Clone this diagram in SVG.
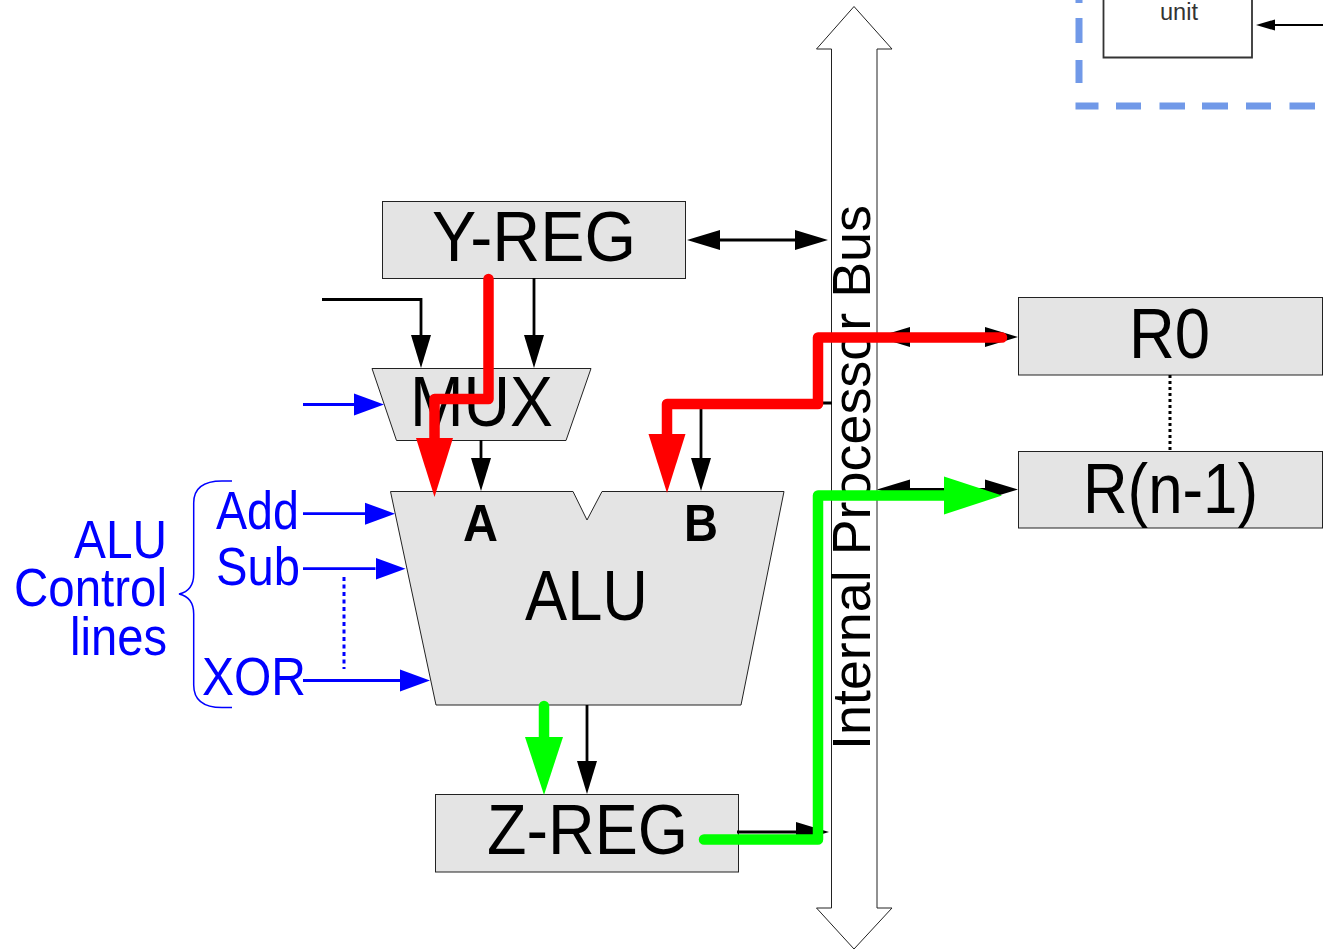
<svg xmlns="http://www.w3.org/2000/svg" width="1323" height="950" viewBox="0 0 1323 950">
<style>
text{font-family:"Liberation Sans",Arial,sans-serif;fill:#000}
.reg{fill:#e4e4e4;stroke:#222;stroke-width:1}
.big{font-size:71px}
.blue{font-size:53px;fill:#00f}
.lbl{font-size:51px;font-weight:bold}
.k{fill:none;stroke:#000;stroke-width:2.800}
.b{fill:none;stroke:#00f;stroke-width:2.800}
.red{fill:none;stroke:#f00;stroke-width:10.500;stroke-linejoin:round;stroke-linecap:round}
.grn{fill:none;stroke:#0f0;stroke-width:10.500;stroke-linejoin:round;stroke-linecap:round}
.dash{fill:none;stroke:#7199e8;stroke-width:7}
</style>
<defs>
<marker id="ak" markerUnits="userSpaceOnUse" markerWidth="34" markerHeight="24" refX="0" refY="12" orient="auto-start-reverse"><path d="M0 2L33 12L0 22Z" fill="#000"/></marker>
<marker id="ab" markerUnits="userSpaceOnUse" markerWidth="34" markerHeight="24" refX="0" refY="12" orient="auto"><path d="M0 1L30 12L0 23Z" fill="#00f"/></marker>
<marker id="ar" markerUnits="userSpaceOnUse" markerWidth="62" markerHeight="42" refX="0" refY="21" orient="auto"><path d="M0 2.500L59 21L0 39.500Z" fill="#f00"/></marker>
<marker id="ag" markerUnits="userSpaceOnUse" markerWidth="62" markerHeight="42" refX="0" refY="21" orient="auto"><path d="M0 2L58 21L0 40Z" fill="#0f0"/></marker>
</defs>

<g id="cpu-unit">
<path d="M1103.500 0V57.500H1252V0" fill="#fff" stroke="#333" stroke-width="1.800"/>
<text x="1160" y="20" style="font-size:23px;fill:#333" textLength="38" lengthAdjust="spacingAndGlyphs">unit</text>
</g>
<g id="boundary">
<path class="dash" d="M1079 0V3M1079 18V43M1079 60V83"/>
<path class="dash" d="M1075.500 106H1098.500M1116 106H1141M1159.500 106H1185M1202 106H1228M1246 106H1271M1289.500 106H1315"/>
</g>

<g id="bus">
<path d="M854 6.500L892 49H877V908H892L854 949L816.500 908H831.500V49H816.500Z" fill="#fff" stroke="#222" stroke-width="1"/>
<text transform="translate(870 750) rotate(-90)" style="font-size:54px" textLength="545" lengthAdjust="spacingAndGlyphs">Internal Processor Bus</text>
</g>
<g id="y-reg"><rect class="reg" x="382.500" y="201.500" width="303" height="77"/><text class="big" x="432" y="261" textLength="204" lengthAdjust="spacingAndGlyphs">Y-REG</text></g>
<g id="mux"><path class="reg" d="M372 368.500H591L566 440.500H396.500Z"/><text class="big" x="410" y="426" textLength="143" lengthAdjust="spacingAndGlyphs">MUX</text></g>
<g id="alu"><path class="reg" d="M390.500 491.500H573L587 520L602 491.500H784L741 705H436Z"/>
<text class="lbl" x="463" y="541" textLength="35" lengthAdjust="spacingAndGlyphs">A</text><text class="lbl" x="684" y="541" textLength="34" lengthAdjust="spacingAndGlyphs">B</text><text class="big" x="525" y="620" textLength="123" lengthAdjust="spacingAndGlyphs">ALU</text></g>
<g id="z-reg"><rect class="reg" x="435.500" y="794.500" width="303" height="77.500"/><text class="big" x="487" y="854" textLength="201" lengthAdjust="spacingAndGlyphs">Z-REG</text></g>
<g id="r0"><rect class="reg" x="1018.500" y="297.500" width="304" height="77.500"/><text class="big" x="1129" y="358" textLength="81" lengthAdjust="spacingAndGlyphs">R0</text></g>
<g id="rn"><rect class="reg" x="1018.500" y="451.500" width="304" height="76.500"/><text class="big" x="1083" y="513" textLength="175" lengthAdjust="spacingAndGlyphs">R(n-1)</text></g>
<g id="alu-control">
<text class="blue" x="74" y="558" textLength="93" lengthAdjust="spacingAndGlyphs">ALU</text>
<text class="blue" x="14" y="606" textLength="153" lengthAdjust="spacingAndGlyphs">Control</text>
<text class="blue" x="70" y="655" textLength="97" lengthAdjust="spacingAndGlyphs">lines</text>
<text class="blue" x="216" y="529" textLength="83" lengthAdjust="spacingAndGlyphs">Add</text>
<text class="blue" x="216" y="585" textLength="84" lengthAdjust="spacingAndGlyphs">Sub</text>
<text class="blue" x="202" y="695" textLength="104" lengthAdjust="spacingAndGlyphs">XOR</text>
<path d="M232 481H222C204 481 193.700 488 193.700 503V574C193.700 586 188 592 179 594C188 596 193.700 602 193.700 614V685C193.700 700 204 707.500 222 707.500H232" fill="none" stroke="#00f" stroke-width="1.500"/>
</g>

<g id="connectors">
<path d="M1323 25H1275" fill="none" stroke="#000" stroke-width="2"/>
<path d="M1256 25L1275 19.500V30.500Z" fill="#000"/>
<path class="k" d="M720 240H795" marker-start="url(#ak)" marker-end="url(#ak)"/>
<path class="k" d="M534 278V335" marker-end="url(#ak)"/>
<path class="k" d="M322 299.500H421V335" marker-end="url(#ak)"/>
<path class="k" d="M481 440V458" marker-end="url(#ak)"/>
<path class="k" d="M832 403H701V458" marker-end="url(#ak)"/>
<path class="k" d="M587 705V761" marker-end="url(#ak)"/>
<path class="k" d="M737 832H796" marker-end="url(#ak)"/>
<path class="k" d="M910 337H985" marker-start="url(#ak)" marker-end="url(#ak)"/>
<path class="k" d="M910 489.500H985" marker-start="url(#ak)" marker-end="url(#ak)"/>
<path d="M1170 375V451" fill="none" stroke="#000" stroke-width="3" stroke-dasharray="3 3"/>
<path class="b" d="M303 404.500H354" marker-end="url(#ab)"/>
<path class="b" d="M303 513.700H365" marker-end="url(#ab)"/>
<path class="b" d="M303 568.700H375.500" marker-end="url(#ab)"/>
<path class="b" d="M303 680.500H400" marker-end="url(#ab)"/>
<path d="M344 577V669" fill="none" stroke="#00f" stroke-width="3" stroke-dasharray="4 3.500"/>
<path class="red" d="M488.500 279V399H434.500V438" marker-end="url(#ar)"/>
<path class="red" d="M1002 337.500H818V404H667V434" marker-end="url(#ar)"/>
<path class="grn" d="M544 706V737" marker-end="url(#ag)"/>
<path class="grn" d="M704 839.500H818V495.500H944" marker-end="url(#ag)"/>
</g>
</svg>
